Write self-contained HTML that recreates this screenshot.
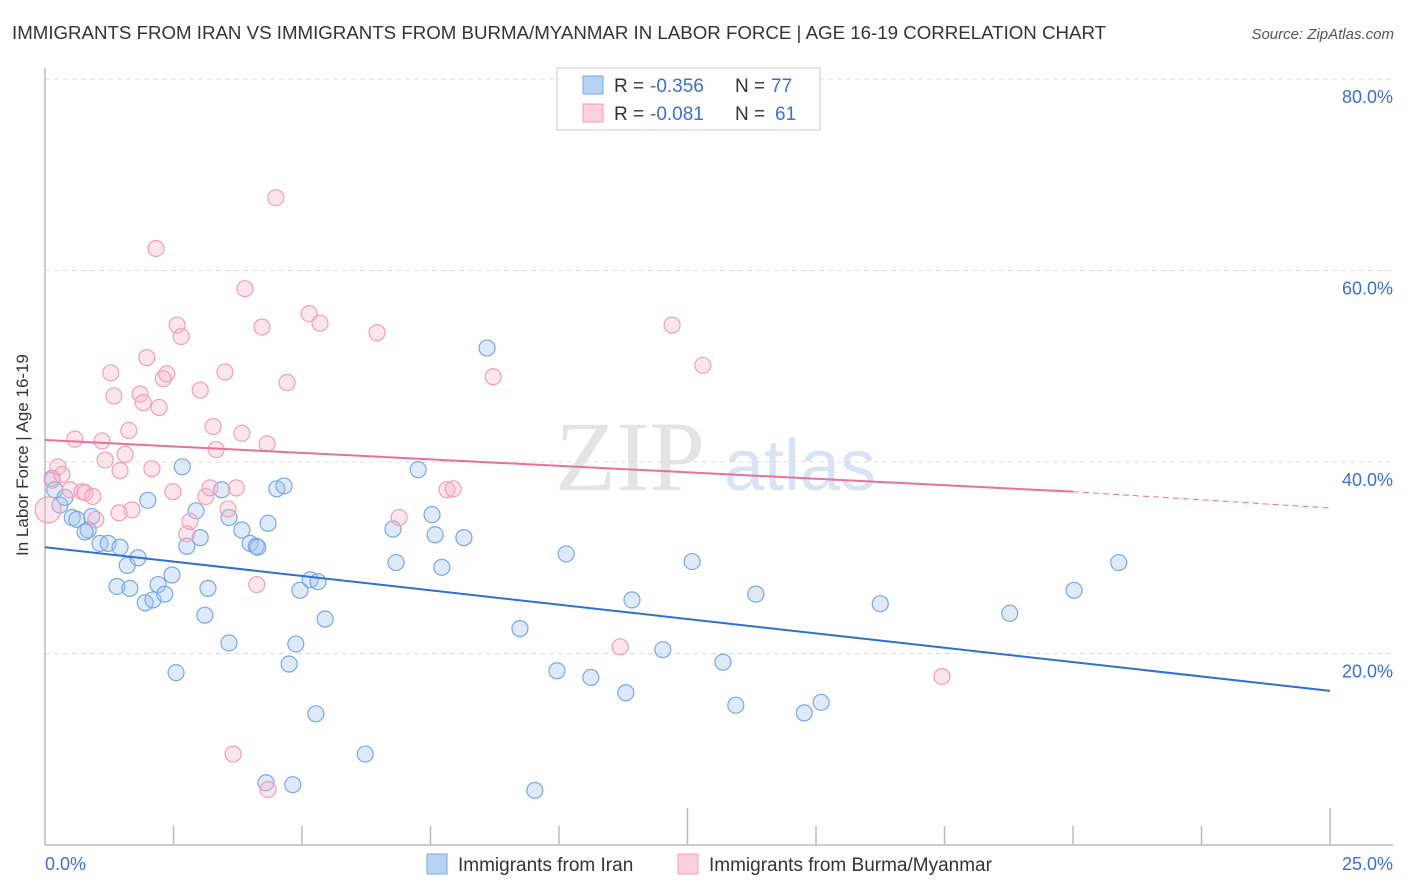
<!DOCTYPE html>
<html><head><meta charset="utf-8"><style>
body{margin:0;background:#fff;font-family:"Liberation Sans",sans-serif;}
#wrap{position:relative;width:1406px;height:892px;overflow:hidden;}
</style></head><body>
<div id="wrap">
<svg id="chart" width="1406" height="892">
<text x="12" y="39" font-size="18.7" fill="#333">IMMIGRANTS FROM IRAN VS IMMIGRANTS FROM BURMA/MYANMAR IN LABOR FORCE | AGE 16-19 CORRELATION CHART</text>
<text x="1394" y="39" font-size="15" fill="#555" font-style="italic" text-anchor="end">Source: ZipAtlas.com</text>
<text x="630" y="490" font-size="100" fill="#e4e4e4" text-anchor="middle" font-family="Liberation Serif,serif">ZIP</text>
<text x="800" y="490" font-size="72" fill="#d8e4f4" text-anchor="middle">atlas</text>
<g id="grid"></g>
<line x1="45" y1="68" x2="45" y2="845" stroke="#bbb" stroke-width="1.5"/>
<line x1="45" y1="845" x2="1393" y2="845" stroke="#bbb" stroke-width="1.5"/>
<g id="xticks"></g>
<text x="28" y="455" font-size="17" fill="#333" text-anchor="middle" transform="rotate(-90 28 455)">In Labor Force | Age 16-19</text>
<text x="45" y="870" font-size="18" fill="#3b6fd4">0.0%</text>
<text x="1393" y="870" font-size="18" fill="#3b6fd4" text-anchor="end">25.0%</text>
<g id="pts"></g>
<g id="trends"></g>
<g>
<rect x="557" y="68" width="263" height="62" fill="#fff" stroke="#ccc"/>
<rect x="583" y="76" width="20" height="18" fill="#b8d2f6" stroke="#7aa8e6"/>
<text x="614" y="92" font-size="19" fill="#333">R =</text>
<text x="650" y="92" font-size="19" fill="#3b6fd4">-0.356</text>
<text x="735" y="92" font-size="19" fill="#333">N =</text>
<text x="771" y="92" font-size="19" fill="#3b6fd4">77</text>
<rect x="583" y="104" width="20" height="18" fill="#fbd0dc" stroke="#f0a0b8"/>
<text x="614" y="120" font-size="19" fill="#333">R =</text>
<text x="650" y="120" font-size="19" fill="#3b6fd4">-0.081</text>
<text x="735" y="120" font-size="19" fill="#333">N =</text>
<text x="775" y="120" font-size="19" fill="#3b6fd4">61</text>
</g>
<g>
<rect x="427" y="854" width="20" height="20" fill="#b8d2f6" stroke="#7aa8e6"/>
<text x="458" y="871" font-size="19" fill="#333">Immigrants from Iran</text>
</g>
<g>
<rect x="678" y="854" width="20" height="20" fill="#fbd0dc" stroke="#f0a0b8"/>
<text x="709" y="871" font-size="19" fill="#333">Immigrants from Burma/Myanmar</text>
</g>
</svg>
</div>
<script>
const yTicks=[20,40,60,80];
const iranX=[0.14,0.19,0.29,0.39,0.53,0.62,0.84,0.91,0.78,1.07,1.23,1.46,1.60,1.81,1.40,1.65,1.95,2.10,2.20,2.33,2.47,2.00,2.67,2.76,2.94,3.02,3.17,3.11,3.44,3.58,3.58,3.83,3.99,4.11,4.14,4.34,4.51,4.65,2.55,4.96,5.16,5.31,4.88,4.75,5.45,5.27,4.30,4.82,6.23,6.77,6.83,7.26,7.53,7.59,7.72,8.15,8.60,9.24,9.53,9.96,10.14,10.62,11.30,11.42,12.02,12.59,13.19,13.44,13.83,14.77,15.10,16.25,18.77,20.02,20.89];
const iranY=[38.3,37.1,35.5,36.3,34.2,34.0,32.9,34.3,32.7,31.5,31.5,31.1,29.2,30.0,27.0,26.8,25.3,25.6,27.2,26.2,28.2,36.0,39.5,31.2,34.9,32.1,26.8,24.0,37.1,34.2,21.1,32.9,31.5,31.2,31.1,33.6,37.2,37.5,18.0,26.6,27.7,27.5,21.0,18.9,23.6,13.7,6.5,6.3,9.5,33.0,29.5,39.2,34.5,32.4,29.0,32.1,51.9,22.6,5.7,18.2,30.4,17.5,15.9,25.6,20.4,29.6,19.1,14.6,26.2,13.8,14.9,25.2,24.2,26.6,29.5];
const burmaX=[0.06,0.14,0.25,0.33,0.49,0.58,0.72,0.78,0.93,0.99,1.11,1.17,1.28,1.34,1.46,1.56,1.63,1.85,1.91,1.98,2.08,2.16,2.22,2.30,2.37,2.49,2.57,2.65,2.76,2.82,3.02,3.13,3.21,3.27,3.33,3.50,3.56,3.72,3.83,3.89,4.12,4.22,4.32,4.49,4.71,5.14,5.35,3.66,4.34,6.46,6.89,7.82,7.94,8.72,11.19,12.20,12.80,17.45,1.69,1.44];
const burmaY=[35.0,38.1,39.5,38.7,37.1,42.4,36.9,36.8,36.4,34.0,42.2,40.2,49.3,46.9,39.1,40.8,43.3,47.1,46.2,50.9,39.3,62.3,45.7,48.7,49.2,36.9,54.3,53.1,32.5,33.8,47.5,36.4,37.3,43.7,41.3,49.4,35.1,37.3,43.0,58.1,27.2,54.1,41.9,67.6,48.3,55.5,54.5,9.5,5.8,53.5,34.2,37.1,37.2,48.9,20.7,54.3,50.1,17.6,35.0,34.7];
const iranTrend=[31.1,16.1];
const burmaTrend=[42.3,36.9,35.2];
const trendX=[0,20,25];
const X0=45,X1=1330,Y0=845,PER=9.575;
const sx=v=>X0+(X1-X0)*v/25, sy=v=>Y0-v*PER;
const NS="http://www.w3.org/2000/svg";
function mk(tag,attrs,parent){const e=document.createElementNS(NS,tag);for(const k in attrs)e.setAttribute(k,attrs[k]);document.getElementById(parent).appendChild(e);return e;}
yTicks.forEach(t=>{
 const l=mk('line',{x1:45,x2:1393,y1:sy(t),y2:sy(t),stroke:'#ddd','stroke-dasharray':'5,4'},'grid');
 
 
 const tx=mk('text',{x:1393,y:sy(t)+24,'font-size':18,fill:'#3b6fd4','text-anchor':'end'},'grid');
 tx.textContent=t.toFixed(1)+'%';
 
 
});
for(let i=1;i<=10;i++){
 const x=X0+(X1-X0)*i/10;
 const l=mk('line',{x1:x,x2:x,y1:(i==5||i==10?808:826),y2:845,stroke:'#bbb','stroke-width':1.5},'xticks');
 
 
}
function pts(xs,ys,fill,stroke,name){
 xs.forEach((v,i)=>{
  const c=mk('circle',{cx:sx(v),cy:sy(ys[i]),r:(name=='burma-point'&&i==0)?13:8,fill:fill,stroke:stroke,'stroke-width':1.2},'pts');
  
  
 });
}
pts(iranX,iranY,'rgba(160,195,240,0.35)','#7aa8e6','iran-point');
pts(burmaX,burmaY,'rgba(248,180,200,0.35)','#f0a0b8','burma-point');
const bl=mk('line',{x1:sx(trendX[0]),y1:sy(iranTrend[0]),x2:sx(trendX[2]),y2:sy(iranTrend[1]),stroke:'#2f6fd6','stroke-width':2},'trends');


const pl=mk('line',{x1:sx(trendX[0]),y1:sy(burmaTrend[0]),x2:sx(trendX[1]),y2:sy(burmaTrend[1]),stroke:'#e8709a','stroke-width':2},'trends');


const pd=mk('line',{x1:sx(trendX[1]),y1:sy(burmaTrend[1]),x2:sx(trendX[2]),y2:sy(burmaTrend[2]),stroke:'#e8709a','stroke-width':1,'stroke-dasharray':'6,4'},'trends');


</script>
</body></html>
